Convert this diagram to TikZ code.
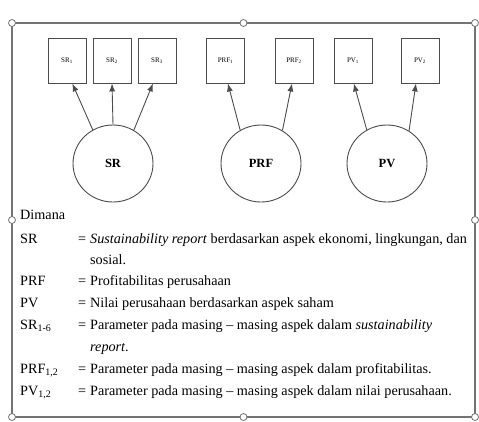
\documentclass[tikz,border=0pt]{standalone}
\usepackage{fontspec}
\setmainfont{Liberation Serif}
\usetikzlibrary{shapes.geometric,arrows.meta}
\begin{document}
\begin{tikzpicture}[x=1pt,y=-1pt,
  ind/.style={draw=black!70,line width=0.9pt,minimum width=38pt,minimum height=45pt,inner sep=0pt,font=\fontsize{7}{8}\selectfont},
  lat/.style={draw=black!70,line width=0.9pt,ellipse,minimum width=80pt,minimum height=77pt,inner sep=0pt,font=\fontsize{12.5}{14}\selectfont\bfseries},
  arr/.style={draw=black!70,line width=0.9pt,-{Latex[length=8pt,width=6pt]}},
  frame/.style={draw=black!55,line width=1.3pt},
  handle/.style={draw=black!55,fill=white,line width=0.8pt,circle,minimum size=7pt,inner sep=0pt},
  leg/.style={anchor=base west,inner sep=0pt,font=\fontsize{14.2}{16}\selectfont}]
\useasboundingbox (0,0) rectangle (479,421);
\draw[frame] (12,23) rectangle (475,417);
\foreach \n/\p in {h1/{(12,23)},h2/{(243.5,23)},h3/{(475,23)},h4/{(12,220)},h5/{(475,220)},h6/{(12,417)},h7/{(243.5,417)},h8/{(475,417)}}
  \node[handle] (\n) at \p {};
% indicator boxes
\node[ind] (sr1) at (67,60.5) {SR\textsubscript{1}};
\node[ind] (sr2) at (112,60.5) {SR\textsubscript{2}};
\node[ind] (sr3) at (157,60.5) {SR\textsubscript{3}};
\node[ind] (prf1) at (225.5,60.5) {PRF\textsubscript{1}};
\node[ind] (prf2) at (294,60.5) {PRF\textsubscript{2}};
\node[ind] (pv1) at (353,60.5) {PV\textsubscript{1}};
\node[ind] (pv2) at (420,60.5) {PV\textsubscript{2}};
% latent circles
\node[lat] (sr) at (113,163.5) {SR};
\node[lat] (prf) at (261,163.5) {PRF};
\node[lat] (pv) at (387,163.5) {PV};
% arrows
\draw[arr] (sr.121) -- (sr1.-77);
\draw[arr] (sr.90) -- (sr2.-90);
\draw[arr] (sr.58) -- (sr3.-100);
\draw[arr] (prf.122) -- (prf1.-84);
\draw[arr] (prf.57) -- (prf2.-95);
\draw[arr] (pv.121) -- (pv1.-88);
\draw[arr] (pv.56) -- (pv2.-100);
% legend
\node[leg] (dim) at (20,219) {Dimana};
\node[leg] (l1) at (20,243) {SR};
\node[leg] (e1) at (78,243) {=};
\node[leg] (t1) at (90,243) {\textit{Sustainability report} berdasarkan aspek ekonomi, lingkungan, dan};
\node[leg] (t1b) at (90,264) {sosial.};
\node[leg] (l2) at (20,285) {PRF};
\node[leg] (e2) at (78,285) {=};
\node[leg] (t2) at (90,285) {Profitabilitas perusahaan};
\node[leg] (l3) at (20,307) {PV};
\node[leg] (e3) at (78,307) {=};
\node[leg] (t3) at (90,307) {Nilai perusahaan berdasarkan aspek saham};
\node[leg] (l4) at (20,329) {SR\textsubscript{1-6}};
\node[leg] (e4) at (78,329) {=};
\node[leg] (t4) at (90,329) {Parameter pada masing -- masing aspek dalam \textit{sustainability}};
\node[leg] (t4b) at (90,351) {\textit{report}.};
\node[leg] (l5) at (20,373) {PRF\textsubscript{1,2}};
\node[leg] (e5) at (78,373) {=};
\node[leg] (t5) at (90,373) {Parameter pada masing -- masing aspek dalam profitabilitas.};
\node[leg] (l6) at (20,395) {PV\textsubscript{1,2}};
\node[leg] (e6) at (78,395) {=};
\node[leg] (t6) at (90,395) {Parameter pada masing -- masing aspek dalam nilai perusahaan.};
\end{tikzpicture}
\end{document}
